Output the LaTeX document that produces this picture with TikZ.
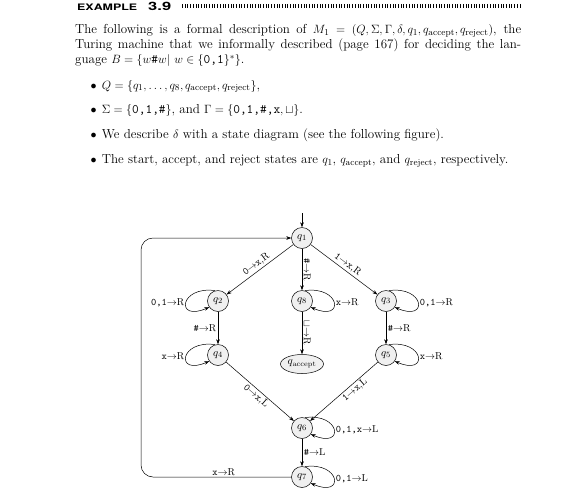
\documentclass[tikz,border=0pt]{standalone}
\usepackage{fontspec}
\usepackage{graphicx}
\newfontfamily\heros{TeX Gyre Heros}
\usetikzlibrary{arrows.meta,shapes.geometric}
\tikzset{
  stnode/.style={circle, draw, line width=0.5pt, fill=gray!12, minimum size=21pt, inner sep=0pt, font=\fontsize{11}{13}\selectfont},
  accnode/.style={ellipse, draw, line width=0.5pt, fill=gray!12, minimum width=43pt, minimum height=19pt, inner sep=0pt, font=\fontsize{10.5}{12}\selectfont},
  lbl/.style={font=\fontsize{10}{12}\selectfont, inner sep=1.5pt},
  tr/.style={line width=0.5pt, -{Stealth[length=5pt,width=3.6pt]}},
  txt/.style={anchor=base west, inner sep=0pt, font=\fontsize{13}{15}\selectfont},
}
\newcommand{\ra}{$\rightarrow$}
\begin{document}
\begin{tikzpicture}[x=1pt,y=1pt]
\useasboundingbox (0,0) rectangle (563,-499);
% header
\node[anchor=base west, inner sep=0] (hd) at (77,-10.5) {\resizebox{60pt}{6.5pt}{\heros\bfseries EXAMPLE}};
\node[anchor=base west, inner sep=0] (hn) at (148,-10.5) {\resizebox{23pt}{8.3pt}{\heros\bfseries 3.9}};
\foreach \i in {0,...,125} {\fill (182+\i*2.7,-4) rectangle ++(0.9,-3.6);}
% paragraph
\node[txt] (t1) at (75,-33.5) {\makebox[446pt][s]{The following is a formal description of $M_1=(Q,\Sigma,\Gamma,\delta,q_1,q_{\mathrm{accept}},q_{\mathrm{reject}})$, the}};
\node[txt] (t2) at (75,-48.5) {\makebox[446pt][s]{Turing machine that we informally described (page 167) for deciding the lan-}};
\node[txt] (t3) at (75,-63.5) {guage $B=\{w\texttt{\#}w|\ w\in\{\texttt{0,1}\}^*\}$.};
\foreach \y/\n in {89/b1,113/b2,138.3/b3,163.3/b4} {\node[txt] (\n) at (90.5,-\y) {$\bullet$};}
\node[txt] (s1) at (101.7,-89) {$Q=\{q_1,\ldots,q_8,q_{\mathrm{accept}},q_{\mathrm{reject}}\}$,};
\node[txt] (s2) at (101.7,-113) {$\Sigma=\{\texttt{0,1,\#}\}$, and $\Gamma=\{\texttt{0,1,\#,x},\sqcup\}$.};
\node[txt] (s3) at (101.7,-138.3) {We describe $\delta$ with a state diagram (see the following figure).};
\node[txt] (s4) at (101.7,-163.3) {The start, accept, and reject states are $q_1$, $q_{\mathrm{accept}}$, and $q_{\mathrm{reject}}$, respectively.};
% states
\node[stnode] (q1) at (302,-238) {$q_1$};
\node[stnode] (q2) at (218,-301) {$q_2$};
\node[stnode] (q8) at (302,-301) {$q_8$};
\node[stnode] (q3) at (386,-301) {$q_3$};
\node[stnode] (q4) at (218,-355) {$q_4$};
\node[accnode] (qa) at (302,-364) {$q_{\mathrm{accept}}$};
\node[stnode] (q5) at (386,-355) {$q_5$};
\node[stnode] (q6) at (302,-428) {$q_6$};
\node[stnode] (q7) at (302,-477) {$q_7$};
\coordinate (st) at (302,-213);
\coordinate (bl) at (141,-477);
\coordinate (tl) at (141,-238);
% transitions
\draw[tr] (st) -- (q1);
\draw[tr] (q1) -- node[lbl, sloped, above, pos=0.5] {\texttt{0}\ra\texttt{x},R} (q2);
\draw[tr] (q1) -- node[lbl, sloped, above, pos=0.5] {\texttt{1}\ra\texttt{x},R} (q3);
\draw[tr] (q1) -- node[lbl, right] {\rotatebox{-90}{\texttt{\#}\ra R}} (q8);
\draw[tr] (q8) -- node[lbl, right] {\rotatebox{-90}{$\sqcup$\ra R}} (qa);
\draw[tr] (q2) -- node[lbl, left] {\texttt{\#}\ra R} (q4);
\draw[tr] (q3) -- node[lbl, right] {\texttt{\#}\ra R} (q5);
\draw[tr] (q4) -- node[lbl, sloped, below, pos=0.5] {\texttt{0}\ra\texttt{x},L} (q6);
\draw[tr] (q5) -- node[lbl, sloped, below, pos=0.4] {\texttt{1}\ra\texttt{x},L} (q6);
\draw[tr] (q6) -- node[lbl, right] {\texttt{\#}\ra L} (q7);
\draw[tr, rounded corners=12pt] (q7) -- node[lbl, above, pos=0.45] {\texttt{x}\ra R} (bl) -- (tl) -- (q1);
% loops
\draw[tr] (q2.105) .. controls +(-36,5) and +(-34,-15) .. node[lbl, left] {\texttt{0,1}\ra R} (q2.215);
\draw[tr] (q4.105) .. controls +(-36,5) and +(-34,-15) .. node[lbl, left] {\texttt{x}\ra R} (q4.215);
\draw[tr] (q8.75) .. controls +(36,5) and +(34,-15) .. node[lbl, right] {\texttt{x}\ra R} (q8.-35);
\draw[tr] (q3.75) .. controls +(36,5) and +(34,-15) .. node[lbl, right] {\texttt{0,1}\ra R} (q3.-35);
\draw[tr] (q5.75) .. controls +(36,5) and +(34,-15) .. node[lbl, right] {\texttt{x}\ra R} (q5.-35);
\draw[tr] (q6.75) .. controls +(36,5) and +(34,-15) .. node[lbl, right] {\texttt{0,1,x}\ra L} (q6.-35);
\draw[tr] (q7.75) .. controls +(36,5) and +(34,-15) .. node[lbl, right] {\texttt{0,1}\ra L} (q7.-35);
\end{tikzpicture}
\end{document}
